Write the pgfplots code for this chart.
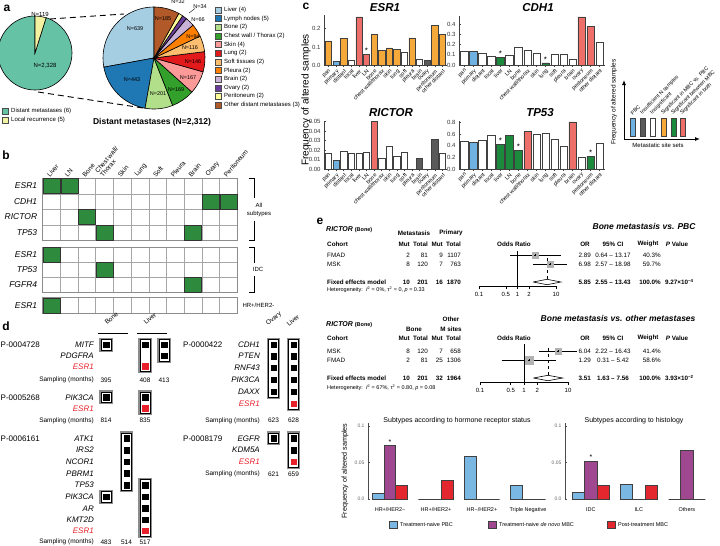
\documentclass[border=0pt]{standalone}
\usepackage{fontspec}
\setmainfont{Liberation Sans}
\newfontfamily\djv{DejaVu Sans}
\usepackage{pgfplots}
\pgfplotsset{compat=1.18}
\usetikzlibrary{arrows.meta}

\definecolor{cTeal}{HTML}{66C2A5}
\definecolor{cLocal}{HTML}{F2F2A0}
\definecolor{cLiver}{HTML}{A6CEE3}
\definecolor{cLN}{HTML}{1F78B4}
\definecolor{cBone}{HTML}{B2DF8A}
\definecolor{cChest}{HTML}{33A02C}
\definecolor{cSkin}{HTML}{FB9A99}
\definecolor{cLung}{HTML}{E31A1C}
\definecolor{cSoft}{HTML}{FDBF6F}
\definecolor{cPleura}{HTML}{FF7F00}
\definecolor{cBrain}{HTML}{CAB2D6}
\definecolor{cOvary}{HTML}{6A3D9A}
\definecolor{cPerit}{HTML}{FFFF99}
\definecolor{cOther}{HTML}{B15928}
\definecolor{hmGreen}{HTML}{2E8B3E}
\definecolor{cOrange}{HTML}{F4A93A}
\definecolor{cBlue}{HTML}{6FB2E2}
\definecolor{cSalmon}{HTML}{EE6E6A}
\definecolor{cGreen}{HTML}{1B8A3C}
\definecolor{cGray}{HTML}{5A5A5A}
\definecolor{mutRed}{HTML}{E8202A}
\definecolor{bBlue}{HTML}{7AB8E3}
\definecolor{bPurple}{HTML}{A0488F}
\definecolor{bRed}{HTML}{E4262F}

\newcommand\fs[1]{\fontsize{#1}{#1}\selectfont}

% pie slices, counterclockwise from 12 o'clock
\newcommand\buildpie[3]{%
  \gdef\pieslices{}\xdef\pieacc{90}%
  \foreach \pv/\pc in {#3} {%
    \pgfmathsetmacro\pieend{\pieacc+\pv/#1*360}%
    \pgfmathsetmacro\px{cos(\pieacc)}\pgfmathsetmacro\py{sin(\pieacc)}%
    \xdef\pieslices{\unexpanded\expandafter{\pieslices}\noexpand\filldraw[fill=\pc,draw=black,line width=0.6pt] (axis cs:0,0) -- (axis cs:\px,\py) arc[start angle=\pieacc,end angle=\pieend,radius=#2] -- cycle;}%
    \xdef\pieacc{\pieend}%
  }%
}

\pgfplotsset{
  /pgf/number format/assume math mode=true,
  pieaxis/.style={scale only axis, hide axis, anchor=center, xmin=-1, xmax=1, ymin=-1, ymax=1, clip=false},
  hm/.style={scale only axis, anchor=north west, width=194.6pt, xmin=0, xmax=11, ymin=0,
    xtick={0.5,1.5,...,10.5}, xticklabels={}, minor xtick={1,...,10}, grid=minor,
    minor grid style={black!35, line width=0.6pt}, axis line style={black!45, line width=1pt},
    tick style={draw=none}, yticklabel style={font=\fs{8.5}\itshape, xshift=-2pt}, clip=false},
  cell/.style={only marks, mark=square*, mark size=8.5pt, mark options={fill=hmGreen, draw=black!80, line width=0.4pt, yscale=#1}},
  freqbar/.style={scale only axis, anchor=north west, ybar, bar width=0.82, xmin=-0.6, xmax=15.6, ymin=0,
    axis x line*=bottom, axis y line*=left, axis line style={line width=0.8pt, black!75},
    xtick={0,...,15}, scaled y ticks=false,
    xticklabels={pan,primary,distant,local,liver,LN,bone,chest wall/thorax,skin,lung,soft,pleura,brain,ovary,peritoneum,other distant},
    xticklabel style={rotate=45, anchor=north east, font=\fs{5.5}, inner sep=1pt},
    yticklabel style={font=\fs{6}, black!80}, major tick length=2pt, tick style={black!75, line width=0.6pt},
    clip=false},
  b/.style={fill=#1, draw=black!75, line width=0.6pt, bar shift=0pt},
  subbar/.style={scale only axis, anchor=north west, ybar=0pt, bar width=0.255, ymin=0, ymax=0.104,
    axis y line*=left, axis x line*=bottom, x axis line style={draw=none}, xtick style={draw=none},
    ytick={0,0.05,0.1}, yticklabels={0.0,0.05,0.1}, yticklabel style={font=\fs{5}, black!60},
    y axis line style={line width=0.8pt, black!70}, ytick style={black!70}, scaled y ticks=false,
    xticklabel style={font=\fs{5.5}, yshift=-3pt}, major tick length=2pt, clip=false,
    every axis plot/.append style={draw=black!75, line width=1pt}},
}

\begin{document}
\begin{tikzpicture}
\useasboundingbox (0,0) rectangle (720pt,-546pt);

% ---------------- a: pies
\buildpie{2447}{37pt}{2328/cTeal,119/cLocal}
\begin{axis}[pieaxis, at={(35pt,-53pt)}, width=74pt, height=74pt]
\pieslices
\end{axis}
\buildpie{2292}{51pt}{639/cLiver,443/cLN,201/cBone,169/cChest,167/cSkin,146/cLung,116/cSoft,94/cPleura,66/cBrain,34/cOvary,32/cPerit,185/cOther}
\begin{axis}[pieaxis, at={(154pt,-58pt)}, width=102pt, height=102pt]
\pieslices
\end{axis}

% ---------------- b: heat map blocks
\begin{axis}[hm, at={(42.7pt,-178.3pt)}, height=62pt, ymax=4,
  ytick={0.5,1.5,2.5,3.5}, yticklabels={TP53,RICTOR,CDH1,ESR1}, minor ytick={1,2,3},
  xticklabel pos=upper,
  xticklabels={Liver,LN,Bone,{Chest wall/\\Thorax},Skin,Lung,Soft,Pleura,Brain,Ovary,Peritoneum},
  xticklabel style={rotate=50, anchor=south west, font=\fs{6.5}, align=left, xshift=-4pt, yshift=-2pt}]
\addplot[cell=0.876] coordinates {(0.5,3.5)(1.5,3.5)(9.5,2.5)(10.5,2.5)(2.5,1.5)(3.5,0.5)(8.5,0.5)};
\node[font=\fs{7}\djv] at (axis cs:1.5,3.5) {★};
\end{axis}
\begin{axis}[hm, at={(42.7pt,-247.3pt)}, height=45pt, ymax=3,
  ytick={0.5,1.5,2.5}, yticklabels={FGFR4,TP53,ESR1}, minor ytick={1,2}]
\addplot[cell=0.847] coordinates {(0.5,2.5)(3.5,1.5)(8.5,0.5)};
\end{axis}
\begin{axis}[hm, at={(42.7pt,-297.7pt)}, height=15.6pt, ymax=1,
  ytick={0.5}, yticklabels={ESR1}]
\addplot[cell=0.88] coordinates {(0.5,0.5)};
\end{axis}

% ---------------- c: frequency bars
\begin{axis}[freqbar, at={(324pt,-15pt)}, width=123pt, height=50.3pt, ymax=0.275,
  ytick={0,0.1,0.2}, yticklabels={0.0,0.1,0.2}]
\addplot[b=cOrange] coordinates {(0,0.13)(2,0.145)(6,0.17)(7,0.083)(8,0.095)(9,0.088)(11,0.15)(14,0.22)(15,0.168)};
\addplot[b=cBlue] coordinates {(1,0.02)};
\addplot[b=white] coordinates {(3,0.025)(10,0.07)(12,0.035)};
\addplot[b=cSalmon] coordinates {(4,0.265)(5,0.06)};
\addplot[b=cGray] coordinates {(13,0.03)};
\node[font=\fs{8}, anchor=south, inner sep=0.5pt] at (axis cs:5,0.06) {*};
\end{axis}
\begin{axis}[freqbar, at={(459pt,-15.8pt)}, width=146pt, height=49.2pt, ymax=0.48,
  ytick={0,0.1,0.2,0.3,0.4}, yticklabels={0.0,0.1,0.2,0.3,0.4}]
\addplot[b=white] coordinates {(0,0.13)(2,0.115)(3,0.085)(5,0.09)(6,0.175)(7,0.14)(8,0.115)(10,0.1)(11,0.105)(12,0.055)(15,0.22)};
\addplot[b=cBlue] coordinates {(1,0.13)};
\addplot[b=cGreen] coordinates {(4,0.075)(9,0.02)};
\addplot[b=cSalmon] coordinates {(13,0.47)(14,0.375)};
\node[font=\fs{8}, anchor=south, inner sep=0.5pt] at (axis cs:4,0.075) {*};
\node[font=\fs{8}, anchor=south, inner sep=0.5pt] at (axis cs:9,0.02) {*};
\end{axis}
\begin{axis}[freqbar, at={(324pt,-120.8pt)}, width=123pt, height=48.5pt, ymax=0.051,
  ytick={0,0.01,0.02,0.03,0.04,0.05}, yticklabels={0.00,0.01,0.02,0.03,0.04,0.05}]
\addplot[b=white] coordinates {(0,0.0165)(2,0.019)(3,0.017)(4,0.017)(5,0.018)(7,0.012)(8,0.024)(9,0.0135)(10,0.0175)(15,0.0165)};
\addplot[b=cBlue] coordinates {(1,0.009)};
\addplot[b=cSalmon] coordinates {(6,0.05)};
\addplot[b=cGray] coordinates {(12,0.0115)(14,0.0315)};
\end{axis}
\begin{axis}[freqbar, at={(459pt,-121.4pt)}, width=146pt, height=47.6pt, ymax=0.82,
  ytick={0,0.2,0.4,0.6,0.8}, yticklabels={0.0,0.2,0.4,0.6,0.8}]
\addplot[b=white] coordinates {(0,0.48)(2,0.5)(3,0.58)(8,0.59)(9,0.61)(10,0.52)(11,0.39)(13,0.2)(15,0.44)};
\addplot[b=cBlue] coordinates {(1,0.455)};
\addplot[b=cGreen] coordinates {(4,0.42)(5,0.58)(6,0.32)(14,0.22)};
\addplot[b=cSalmon] coordinates {(7,0.65)(12,0.81)};
\node[font=\fs{8}, anchor=south, inner sep=0.5pt] at (axis cs:4,0.42) {*};
\node[font=\fs{8}, anchor=south, inner sep=0.5pt] at (axis cs:6,0.32) {*};
\node[font=\fs{8}, anchor=south, inner sep=0.5pt] at (axis cs:14,0.22) {*};
\end{axis}

% schematic key of c
\begin{axis}[scale only axis, anchor=south west, at={(624pt,-139pt)}, width=76pt, height=59pt,
  xmin=0, xmax=7.6, ymin=-0.04, ymax=1, axis x line=bottom, axis y line=left,
  axis line style={-{Latex[length=5pt,width=4pt]}, line width=0.9pt},
  xtick=\empty, ytick=\empty, ybar, bar width=0.5, clip=false]
\addplot[b=cBlue] coordinates {(0.9,0.33)};
\addplot[b=cGray] coordinates {(1.9,0.33)};
\addplot[b=white] coordinates {(2.9,0.33)};
\addplot[b=cOrange] coordinates {(4.0,0.33)};
\addplot[b=cGreen] coordinates {(5.0,0.33)};
\addplot[b=cSalmon] coordinates {(5.9,0.33)};
\foreach \xx/\tt in {0.9/PBC,1.9/Insufficient N samples,2.9/Insignificant,4.0/Significant in MBC vs. PBC,5.0/Significant between MBC,5.9/Significant in both}{
  \edef\tmp{\noexpand\node[rotate=45, anchor=south west, font=\noexpand\fs{5.3}, inner sep=0.5pt] at (axis cs:\xx,0.36) {\tt};}\tmp}
\end{axis}

% ---------------- d: mutation tracks
\newcommand\gbox[3]{%
  \draw[line width=1.6pt, black!45] (axis cs:{#1-6},{#2-6.3}) rectangle (axis cs:{#1+6},{#3+6.3});
  \draw[line width=0.5pt, black] (axis cs:{#1-5},{#2-5.3}) rectangle (axis cs:{#1+5},{#3+5.3});}
\begin{axis}[scale only axis, hide axis, anchor=north west, at={(0pt,-320pt)}, width=300pt, height=226pt,
  xmin=0, xmax=300, ymin=320, ymax=546, y dir=reverse, clip=false]
\gbox{106}{344.7}{344.7}\gbox{145}{344.7}{366.3}\gbox{164}{344.7}{355.5}
\gbox{106}{397.3}{397.3}\gbox{145}{397.3}{408.3}
\gbox{106}{496.7}{496.7}\gbox{126.5}{438.3}{485}\gbox{145}{485}{530.5}
\gbox{273.5}{344.7}{391.5}\gbox{293.5}{344.7}{403.5}
\gbox{273.5}{438.3}{438.3}\gbox{293.5}{438.3}{461.7}
\addplot[only marks, mark=square*, mark size=2.8pt, black] coordinates {
  (106,344.7)(145,344.7)(164,344.7)(164,355.5)
  (106,397.3)(145,397.3)
  (106,496.7)(126.5,438.3)(126.5,450)(126.5,461.6)(126.5,473.3)(126.5,485)
  (145,485)(145,496.7)(145,508.3)(145,519.5)
  (273.5,344.7)(273.5,356)(273.5,367.7)(273.5,379.6)(273.5,391.5)
  (293.5,344.7)(293.5,356)(293.5,367.7)(293.5,379.6)(293.5,391.5)
  (273.5,438.3)(293.5,438.3)(293.5,450)};
\addplot[only marks, mark=square*, mark size=2.8pt, mutRed] coordinates {
  (145,366.3)(145,408.3)(145,530.5)(293.5,403.5)(293.5,461.7)};
\end{axis}

% ---------------- e: forest plots (odds ratios on a log axis)
\begin{axis}[scale only axis, anchor=north west, at={(479pt,-249pt)}, width=77pt, height=37pt,
  xmode=log, xmin=0.1, xmax=10, ymin=-286, ymax=-249,
  axis x line*=bottom, axis y line=none, xtick={0.1,0.5,1,2,10}, xticklabels={0.1,0.5,1,2,10},
  major tick length=3pt, tick align=outside, tick style={black, line width=0.6pt},
  axis line style={black, line width=0.6pt}, xticklabel style={font=\fs{6}}, clip=false]
\addplot[black, line width=0.6pt] coordinates {(1,-251)(1,-286)};
\addplot[black, dashed, line width=0.6pt] coordinates {(5.85,-258)(5.85,-279)};
\addplot[black, line width=0.6pt] coordinates {(0.64,-255)(13.17,-255)};
\addplot[black, line width=0.6pt] coordinates {(2.57,-264)(18.98,-264)};
\addplot[only marks, mark=square*, mark size=2.9pt, black!30] coordinates {(2.89,-255)};
\addplot[only marks, mark=square*, mark size=3.1pt, black!30] coordinates {(6.98,-264)};
\addplot[only marks, mark=+, mark size=1pt, black] coordinates {(2.89,-255)(6.98,-264)};
\addplot[fill=white, draw=black, line width=0.6pt, line join=miter] coordinates {(2.55,-282)(5.85,-279.3)(13.43,-282)(5.85,-284.7)(2.55,-282)};
\end{axis}
\begin{axis}[scale only axis, anchor=north west, at={(480pt,-343pt)}, width=88pt, height=39pt,
  xmode=log, xmin=0.1, xmax=10, ymin=-382, ymax=-343,
  axis x line*=bottom, axis y line=none, xtick={0.1,0.5,1,2,10}, xticklabels={0.1,0.5,1,2,10},
  major tick length=3pt, tick align=outside, tick style={black, line width=0.6pt},
  axis line style={black, line width=0.6pt}, xticklabel style={font=\fs{6}}, clip=false]
\addplot[black, line width=0.6pt] coordinates {(1,-344)(1,-382)};
\addplot[black, dashed, line width=0.6pt] coordinates {(3.51,-348)(3.51,-375)};
\addplot[black, line width=0.6pt] coordinates {(2.22,-351)(16.43,-351)};
\addplot[black, line width=0.6pt] coordinates {(0.31,-360)(5.42,-360)};
\addplot[only marks, mark=square*, mark size=2.9pt, black!30] coordinates {(6.04,-351)};
\addplot[only marks, mark=square*, mark size=4pt, black!30] coordinates {(1.29,-360)};
\addplot[only marks, mark=+, mark size=1pt, black] coordinates {(6.04,-351)(1.29,-360)};
\addplot[fill=white, draw=black, line width=0.6pt, line join=miter] coordinates {(1.63,-378)(3.51,-375.3)(7.56,-378)(3.51,-380.7)(1.63,-378)};
\end{axis}

% bottom bar charts of e
\begin{axis}[subbar, at={(368pt,-423.1pt)}, width=182pt, height=76pt, xmin=0.52, xmax=4.48,
  xtick={1,2,3,4}, xticklabels={HR+/HER2−,HR+/HER2+,HR−/HER2+,Triple Negative}]
\addplot[fill=bBlue] coordinates {(1,0.008)(2,0)(3,0.058)(4,0.018)};
\addplot[fill=bPurple] coordinates {(1,0.073)(2,0)(3,0)(4,0)};
\addplot[fill=bRed] coordinates {(1,0.018)(2,0.025)(3,0)(4,0)};
\node[font=\fs{7}, anchor=south, inner sep=1pt] at (axis cs:1,0.073) {*};
\end{axis}
\begin{axis}[subbar, at={(565pt,-423.1pt)}, width=144pt, height=76pt, xmin=0.46, xmax=3.46,
  xtick={1,2,3}, xticklabels={IDC,ILC,Others}]
\addplot[fill=bBlue] coordinates {(1,0.009)(2,0.02)(3,0)};
\addplot[fill=bPurple] coordinates {(1,0.052)(2,0)(3,0.066)};
\addplot[fill=bRed] coordinates {(1,0.018)(2,0.018)(3,0)};
\node[font=\fs{7}, anchor=south, inner sep=1pt] at (axis cs:1,0.052) {*};
\end{axis}

% ---------------- text layer in image pixels
\begin{scope}[x=1pt, y=-1pt]
% panel letters
\foreach \lx/\ly/\lt in {7/8/a, 6/155/b, 306/6/c, 6/326/d, 320/221/e}
  \node[font=\fs{12}\bfseries] at (\lx,\ly) {\lt};

% a
\node[font=\fs{6}] at (40,14) {N=119};
\node[font=\fs{6}] at (45,66) {N=2,328};
\draw[dashed, line width=0.9pt, dash pattern=on 6pt off 4pt] (50,19) -- (124,14);
\draw[dashed, line width=0.9pt, dash pattern=on 6pt off 4pt] (38,92) -- (143,108);
\begin{scope}[font=\fs{5.5}]
\node at (135,29) {N=639};
\node at (132,80) {N=443};
\node at (158,94) {N=201};
\node at (176,90) {N=169};
\node at (188,78) {N=167};
\node at (193,62) {N=146};
\node at (190,48) {N=116};
\node at (193,37) {N=94};
\node at (198,20) {N=66};
\node at (200,7) {N=34};
\node at (178,1.5) {N=32};
\node at (163,19) {N=185};
\draw[line width=0.4pt] (189,13) -- (195,8.5);
\end{scope}
\foreach \i/\col/\txt in {0/cLiver/{Liver (4)},1/cLN/{Lymph nodes (5)},2/cBone/{Bone (2)},3/cChest/{Chest wall / Thorax (2)},
  4/cSkin/{Skin (4)},5/cLung/{Lung (2)},6/cSoft/{Soft tissues (2)},7/cPleura/{Pleura (2)},8/cBrain/{Brain (2)},
  9/cOvary/{Ovary (2)},10/cPerit/{Peritoneum (2)},11/cOther/{Other distant metastases (3)}}{
  \filldraw[fill=\col, draw=black!70, line width=0.4pt] (215,{10+\i*8.64-3}) rectangle (221,{10+\i*8.64+3});
  \node[anchor=west, font=\fs{6}, inner sep=0pt] at (224,{10+\i*8.64}) {\txt};}
\filldraw[fill=cTeal, draw=black!70, line width=0.4pt] (2,108) rectangle (8,114);
\node[anchor=west, font=\fs{6}, inner sep=0pt] at (11,111) {Distant metastases (6)};
\filldraw[fill=cLocal, draw=black!70, line width=0.4pt] (2,117) rectangle (8,123);
\node[anchor=west, font=\fs{6}, inner sep=0pt] at (11,120) {Local recurrence (5)};
\node[font=\fs{8.5}\bfseries] at (152,122) {Distant metastases (N=2,312)};

% b brackets
\draw[line width=0.8pt] (249,178.5) -- (254,178.5) -- (254,198);
\draw[line width=0.8pt] (254,221) -- (254,240) -- (249,240);
\node[font=\fs{6}] at (259,205) {All};
\node[font=\fs{6}] at (259,214) {subtypes};
\draw[line width=0.8pt] (249,247.5) -- (254,247.5) -- (254,263);
\draw[line width=0.8pt] (254,276) -- (254,292) -- (249,292);
\node[font=\fs{6}] at (258,269.5) {IDC};
\node[anchor=west, font=\fs{6}] at (239,305.5) {HR+/HER2-};

% c labels
\node[font=\fs{11.5}\bfseries\itshape] at (385,8) {ESR1};
\node[font=\fs{11.5}\bfseries\itshape] at (538,8) {CDH1};
\node[font=\fs{11.5}\bfseries\itshape] at (391,113) {RICTOR};
\node[font=\fs{11.5}\bfseries\itshape] at (540,113) {TP53};
\node[rotate=90, font=\fs{10}] at (306,100) {Frequency of altered samples};
\node[rotate=90, font=\fs{6.5}] at (614,102) {Frequency of altered samples};
\node[font=\fs{6}] at (658,145) {Metastatic site sets};

% d
\node[rotate=40, anchor=south west, font=\fs{6.5}, inner sep=0.5pt] at (107,326) {Bone};
\node[rotate=40, anchor=south west, font=\fs{6.5}, inner sep=0.5pt] at (146,326) {Liver};
\draw[line width=0.7pt] (98,333.3) -- (128,333.3);
\draw[line width=0.7pt] (137,333.3) -- (167,333.3);
\node[rotate=40, anchor=south west, font=\fs{6.5}, inner sep=0.5pt] at (269,328) {Ovary};
\node[rotate=40, anchor=south west, font=\fs{6.5}, inner sep=0.5pt] at (289,328) {Liver};
\begin{scope}[font=\fs{8}]
\node[anchor=west, inner sep=0pt] at (0.5,344.7) {P-0004728};
\node[anchor=west, inner sep=0pt] at (0.5,397.3) {P-0005268};
\node[anchor=west, inner sep=0pt] at (0.5,438.3) {P-0006161};
\node[anchor=west, inner sep=0pt] at (183,344.7) {P-0000422};
\node[anchor=west, inner sep=0pt] at (183,438.3) {P-0008179};
\end{scope}
\begin{scope}[font=\fs{8}\itshape]
\foreach \gy/\gn in {344.7/MITF,355.5/PDGFRA,397.3/PIK3CA,438.3/ATK1,450/IRS2,461.6/NCOR1,473.3/PBRM1,485/TP53,496.7/PIK3CA,508.3/AR,519.5/KMT2D}
  \node[anchor=east, inner sep=0pt] at (94,\gy) {\gn};
\foreach \gy in {366.3,408.3,530.5}
  \node[anchor=east, inner sep=0pt, text=mutRed] at (94,\gy) {ESR1};
\foreach \gy/\gn in {344.7/CDH1,356/PTEN,367.7/RNF43,379.6/PIK3CA,391.5/DAXX,438.3/EGFR,450/KDM5A}
  \node[anchor=east, inner sep=0pt] at (260,\gy) {\gn};
\foreach \gy in {403.5,461.7}
  \node[anchor=east, inner sep=0pt, text=mutRed] at (260,\gy) {ESR1};
\end{scope}
\begin{scope}[font=\fs{6.5}]
\foreach \sy in {380,420.7,542.3}
  \node[anchor=east, inner sep=0pt] at (94,\sy) {Sampling (months)};
\foreach \sy in {420.7,474.3}
  \node[anchor=east, inner sep=0pt] at (260,\sy) {Sampling (months)};
\foreach \sx/\sy/\st in {106/380/395,145/380/408,164/380/413,106/420.7/814,145/420.7/835,
  106/542.3/483,126.5/542.3/514,145/542.3/517,273.5/420.7/623,293.5/420.7/628,273.5/474.3/621,293.5/474.3/659}
  \node[inner sep=0pt] at (\sx,\sy) {\st};
\end{scope}

% e forest text
\node[anchor=east, font=\fs{8.5}\bfseries\itshape] at (699,226) {Bone metastasis vs. PBC};
\node[anchor=east, font=\fs{8.5}\bfseries\itshape] at (699,318) {Bone metastasis vs. other metastases};
\node[anchor=west, inner sep=0pt, font=\fs{7}\bfseries\itshape] at (326,230) {RICTOR {\fs{5.5}\upshape (Bone)}};
\node[anchor=west, inner sep=0pt, font=\fs{7}\bfseries\itshape] at (326,325) {RICTOR {\fs{5.5}\upshape (Bone)}};
\begin{scope}[font=\fs{6.3}\bfseries, inner sep=0pt]
\node at (414,233) {Metastasis};
\node at (451,233) {Primary};
\node at (414,329) {Bone};
\node at (451,319) {Other};
\node at (451,329) {M sites};
\foreach \hy in {244,338}{
  \node[anchor=west] at (327,\hy) {Cohort};
  \node[anchor=east] at (410,\hy) {Mut};
  \node[anchor=east] at (428,\hy) {Total};
  \node[anchor=east] at (443,\hy) {Mut};
  \node[anchor=east] at (461,\hy) {Total};
  \node at (514,\hy) {Odds Ratio};
  \node at (585,\hy) {OR};
  \node at (613,\hy) {95\% CI};
  \node at (648,\hy) {Weight};
  \node at (677,\hy) {\textit{P} Value};}
\end{scope}
\newcommand\frow[9]{%
  \node[anchor=west] at (327,#1) {#2};
  \node[anchor=east] at (410,#1) {#3};
  \node[anchor=east] at (428,#1) {#4};
  \node[anchor=east] at (443,#1) {#5};
  \node[anchor=east] at (461,#1) {#6};
  \node[anchor=east] at (591,#1) {#7};
  \node at (613,#1) {#8};
  \node[anchor=east] at (661,#1) {#9};}
\begin{scope}[font=\fs{6.3}, inner sep=0pt]
\frow{255}{FMAD}{2}{81}{9}{1107}{2.89}{0.64 – 13.17}{40.3\%}
\frow{264}{MSK}{8}{120}{7}{763}{6.98}{2.57 – 18.98}{59.7\%}
\frow{351}{MSK}{8}{120}{7}{658}{6.04}{2.22 – 16.43}{41.4\%}
\frow{360}{FMAD}{2}{81}{25}{1306}{1.29}{0.31 – 5.42}{58.6\%}
\end{scope}
\begin{scope}[font=\fs{6.3}\bfseries, inner sep=0pt]
\frow{282}{Fixed effects model}{10}{201}{16}{1870}{5.85}{2.55 – 13.43}{100.0\%}
\frow{378}{Fixed effects model}{10}{201}{32}{1964}{3.51}{1.63 – 7.56}{100.0\%}
\node[anchor=west] at (665,282) {9.27×10\textsuperscript{−4}};
\node[anchor=west] at (665,378) {3.93×10\textsuperscript{−2}};
\end{scope}
\node[anchor=west, inner sep=0pt, font=\fs{5.5}] at (327,290) {Heterogeneity:\ \ \textit{I}\textsuperscript{2} = 0\%, τ\textsuperscript{2} = 0, \textit{p} = 0.33};
\node[anchor=west, inner sep=0pt, font=\fs{5.5}] at (327,388) {Heterogeneity:\ \ \textit{I}\textsuperscript{2} = 67\%, τ\textsuperscript{2} = 0.80, \textit{p} = 0.08};

% e bottom charts
\node[font=\fs{7}] at (457,421) {Subtypes according to hormone receptor status};
\node[font=\fs{7}] at (634,421) {Subtypes according to histology};
\node[rotate=90, font=\fs{7.2}] at (345,471) {Frequency of altered samples};
\foreach \bx/\bc/\bt in {389/bBlue/{Treatment-naive PBC},488/bPurple/{Treatment-naive \textit{de novo} MBC},607/bRed/{Post-treatment MBC}}{
  \filldraw[fill=\bc, draw=black!75, line width=0.8pt] (\bx,521.5) rectangle (\bx+8,528.5);
  \node[anchor=west, font=\fs{5.5}, inner sep=0pt] at (\bx+11,525) {\bt};}
\end{scope}
\end{tikzpicture}
\end{document}
